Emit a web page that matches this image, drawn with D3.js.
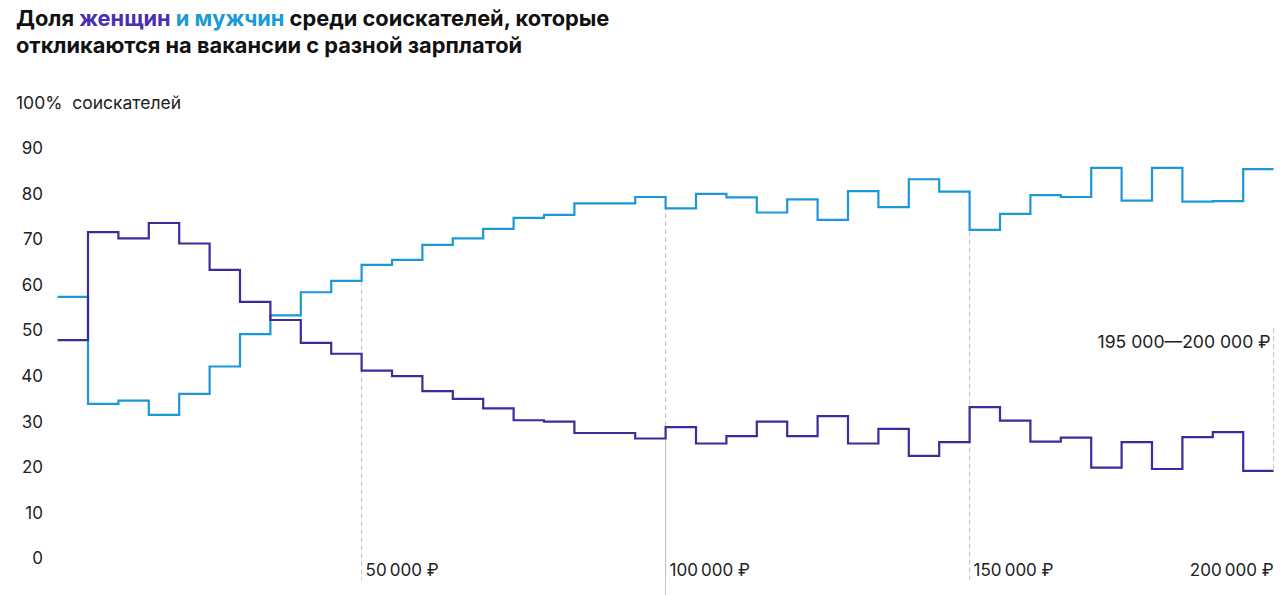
<!DOCTYPE html>
<html><head><meta charset="utf-8">
<script src="https://cdn.jsdelivr.net/npm/d3@7"></script>
<style>
html,body{margin:0;padding:0;background:#fff;}
svg{display:block;font-family:Inter,"Noto Sans",sans-serif;}
</style></head><body>
<svg id="c" width="1280" height="595"></svg>
<script>
// bins of 5000 ₽, 0 … 200000
const binStarts = d3.range(0, 200000, 5000);
const women = [47.9,71.6,70.2,73.6,69.1,63.3,56.3,52.3,47.3,44.9,
               41.2,40.0,36.7,35.0,32.9,30.3,30.0,27.5,27.5,26.3,
               28.8,25.2,26.8,30.0,26.8,31.2,25.2,28.4,22.5,25.5,
               33.2,30.2,25.6,26.5,19.9,25.5,19.6,26.6,27.7,19.2];
const men   = [57.4,33.9,34.6,31.5,36.1,42.1,49.2,53.3,58.4,60.9,
               64.4,65.5,68.8,70.2,72.3,74.7,75.4,77.9,77.9,79.3,
               76.8,80.0,79.2,75.9,78.8,74.3,80.6,77.1,83.2,80.5,
               72.1,75.6,79.7,79.3,85.7,78.5,85.7,78.3,78.4,85.4];
const yTicks = [0,10,20,30,40,50,60,70,80,90];
const xTicks = [50000,100000,150000,200000];
const xTickLabels = ["50\u2009000 ₽","100\u2009000 ₽","150\u2009000 ₽","200\u2009000 ₽"];
const lastBinLabel = "195 000—200 000 ₽";

const svg = d3.select("#c");
const x = d3.scaleLinear().domain([0,200000]).range([57.6,1273.6]);
const y = d3.scaleLinear().domain([0,100]).range([558.3,102.7]);

const cWomen = "#3f2a9c", cMen = "#1b98d5";

// title
const title = svg.append("text").attr("x",16).attr("y",26)
  .attr("font-size",21.8).attr("font-weight",700).attr("fill","#111");
title.append("tspan").text("Доля ");
title.append("tspan").attr("fill","#4a2fb3").text("женщин");
title.append("tspan").attr("fill","#1b9ad8").text(" и мужчин");
title.append("tspan").text(" среди соискателей, которые");
svg.append("text").attr("x",16).attr("y",53)
  .attr("font-size",21.8).attr("font-weight",700).attr("fill","#111")
  .text("откликаются на вакансии с разной зарплатой");

// y axis labels
svg.append("text").attr("x",16).attr("y",y(100)).attr("dy","0.35em")
  .attr("font-size",17.5).attr("fill","#222").text("100%\u00a0\u00a0соискателей");
svg.selectAll("text.yt").data(yTicks).join("text").attr("class","yt")
  .attr("x",43).attr("y",d=>y(d)).attr("dy","0.35em").attr("text-anchor","end")
  .attr("font-size",17).attr("fill","#222").text(d=>d);

const idx = v => Math.min(binStarts.length-1, Math.round(v/5000));
const idxPrev = v => Math.round(v/5000)-1;

// vertical guides
xTicks.forEach((t,i)=>{
  let top, bottom;
  if (t===200000) { top = 328; bottom = y(women[idxPrev(t)]); }
  else {
    top = y(Math.max(men[idx(t)], men[idxPrev(t)]));
    bottom = 580;
  }
  svg.append("line").attr("x1",x(t)).attr("x2",x(t)).attr("y1",top).attr("y2",bottom)
    .attr("stroke","#c4c4c4").attr("stroke-width",1).attr("stroke-dasharray","5,3");
  if (t===100000) {
    svg.append("line").attr("x1",x(t)).attr("x2",x(t))
      .attr("y1",y(women[idx(t)])).attr("y2",595)
      .attr("stroke","#c4c4c4").attr("stroke-width",1);
  }
  const anchorEnd = t===200000;
  svg.append("text").attr("x",anchorEnd ? x(t) : x(t)+4).attr("y",570).attr("dy","0.35em")
    .attr("text-anchor",anchorEnd?"end":"start")
    .attr("font-size",17).attr("fill","#222").text(xTickLabels[i]);
});

svg.append("text").attr("x",x(200000)-3).attr("y",341.5).attr("dy","0.35em")
  .attr("text-anchor","end").attr("font-size",17.6).attr("fill","#222").text(lastBinLabel);

// step lines
const line = d3.line().x(d=>x(d[0])).y(d=>y(d[1])).curve(d3.curveStepAfter);
function pts(vals){
  const p = binStarts.map((s,i)=>[s, vals[i]]);
  p.push([200000, vals[vals.length-1]]);
  return p;
}
svg.append("path").attr("d",line(pts(men))).attr("fill","none")
  .attr("stroke",cMen).attr("stroke-width",2.2);
svg.append("path").attr("d",line(pts(women))).attr("fill","none")
  .attr("stroke",cWomen).attr("stroke-width",2.2);
</script>
</body></html>
